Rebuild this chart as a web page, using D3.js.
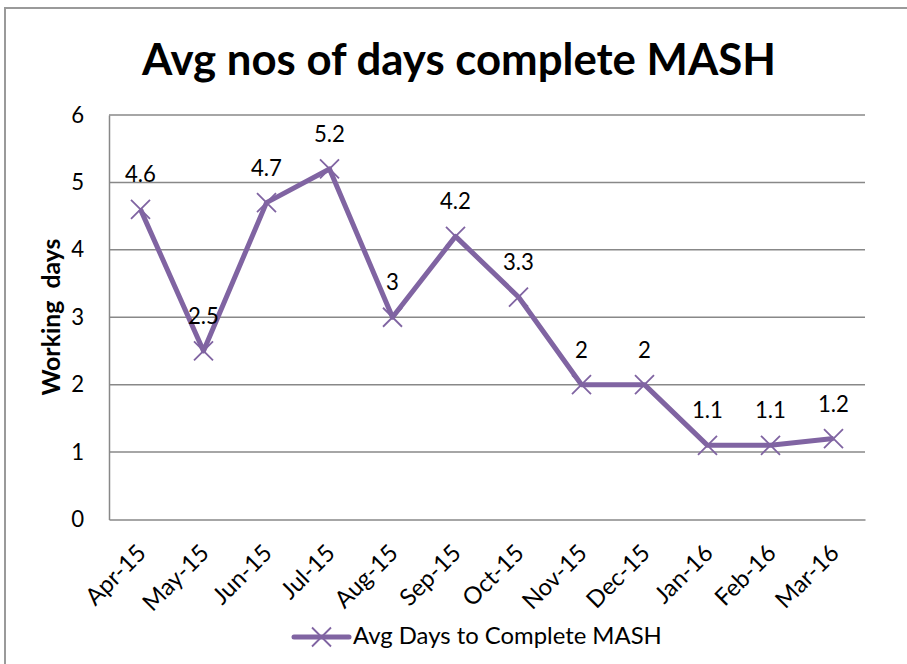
<!DOCTYPE html>
<html><head><meta charset="utf-8">
<script src="https://cdn.jsdelivr.net/npm/d3@7"></script>
<style>body{margin:0;background:#fff}svg{display:block}</style>
</head><body>
<script>
const categories = ["Apr-15","May-15","Jun-15","Jul-15","Aug-15","Sep-15","Oct-15","Nov-15","Dec-15","Jan-16","Feb-16","Mar-16"];
const values = [4.6,2.5,4.7,5.2,3,4.2,3.3,2,2,1.1,1.1,1.2];
const yTicks = [0,1,2,3,4,5,6];
const seriesName = "Avg Days to Complete MASH";
const titleText = "Avg nos of days complete MASH";
const yTitle = "Working  days";

const W = 907, H = 664;
const font = "Lato, 'Open Sans', sans-serif";
const purple = "#8064A2";
const svg = d3.select("body").append("svg").attr("width", W).attr("height", H);
svg.append("rect").attr("width", W).attr("height", H).attr("fill", "#fff");
svg.append("rect").attr("x", 5).attr("y", 8).attr("width", 940).attr("height", 700)
  .attr("fill", "none").attr("stroke", "#9a9a9a").attr("stroke-width", 2);

// fit a font size so that the sample string has a target width
function fitSize(str, target, weight) {
  const t = svg.append("text").attr("font-family", font).attr("font-weight", weight || "normal")
    .attr("font-size", 100).text(str);
  const w = t.node().getComputedTextLength();
  t.remove();
  return 100 * target / w;
}
const fsData = fitSize("4.6", 31);
const fsX = fitSize("Apr-15", 74);
const fsLegend = fitSize(seriesName, 309);
const fsTitle = fitSize(titleText, 634, "bold");
const fsYT = fitSize(yTitle, 151, "bold");

const L = 109, R = 865, T = 115, B = 519.5;
const x = d3.scaleBand().domain(categories).range([L, R]);
const y = d3.scaleLinear().domain([0, 6]).range([B, T]);

// gridlines
svg.append("g").selectAll("line").data(yTicks.filter(d => d > 0)).join("line")
  .attr("x1", L).attr("x2", R).attr("y1", d => y(d)).attr("y2", d => y(d))
  .attr("stroke", "#888").attr("stroke-width", 1.5);

// axes
const yAxis = svg.append("g").attr("transform", `translate(${L},0)`)
  .call(d3.axisLeft(y).tickValues(yTicks).tickFormat(d3.format("d")).tickSize(0).tickPadding(25));
yAxis.select(".domain").attr("stroke", "#888").attr("stroke-width", 1.5);
yAxis.selectAll("text").attr("font-family", font).attr("font-size", fsData).attr("fill", "#000");

const xAxis = svg.append("g").attr("transform", `translate(0,${B})`)
  .call(d3.axisBottom(x).tickSize(0));
xAxis.select(".domain").attr("stroke", "#888").attr("stroke-width", 1.5);
xAxis.selectAll("text").attr("font-family", font).attr("font-size", fsX).attr("fill", "#000")
  .attr("text-anchor", "end").attr("dy", null).attr("y", 0)
  .attr("transform", "translate(7,35) rotate(-45)");

// line
const cx = d => x(d) + x.bandwidth() / 2;
svg.append("path").datum(values)
  .attr("d", d3.line().x((d, i) => cx(categories[i])).y(d => y(d)))
  .attr("fill", "none").attr("stroke", purple).attr("stroke-width", 5)
  .attr("stroke-linejoin", "round");

// markers
const s = 9.5;
const mk = svg.append("g").selectAll("g").data(values).join("g")
  .attr("transform", (d, i) => `translate(${cx(categories[i])},${y(d)})`);
mk.append("path").attr("d", `M${-s},${-s}L${s},${s}M${-s},${s}L${s},${-s}`)
  .attr("stroke", purple).attr("stroke-width", 1.8).attr("fill", "none");

// data labels
svg.append("g").selectAll("text").data(values).join("text")
  .attr("x", (d, i) => cx(categories[i])).attr("y", d => y(d) - 27)
  .attr("text-anchor", "middle").attr("font-family", font).attr("font-size", fsData)
  .text(d => d);

// title
svg.append("text").attr("x", 459).attr("y", 75).attr("text-anchor", "middle")
  .attr("font-family", font).attr("font-weight", "bold").attr("font-size", fsTitle)
  .text(titleText);

// y title
svg.append("text").attr("transform", "translate(60,317) rotate(-90)")
  .attr("text-anchor", "middle").attr("font-family", font).attr("font-weight", "bold")
  .attr("font-size", fsYT).style("white-space", "pre").text(yTitle);

// legend
const lg = svg.append("g").attr("transform", "translate(294,637)");
lg.append("line").attr("x1", 0).attr("x2", 55).attr("stroke", purple).attr("stroke-width", 5).attr("stroke-linecap", "round");
lg.append("path").attr("d", `M${27.5 - s},${-s}L${27.5 + s},${s}M${27.5 - s},${s}L${27.5 + s},${-s}`)
  .attr("stroke", purple).attr("stroke-width", 1.8);
lg.append("text").attr("x", 59).attr("y", 7).attr("font-family", font).attr("font-size", fsLegend)
  .text(seriesName);
</script>
</body></html>
